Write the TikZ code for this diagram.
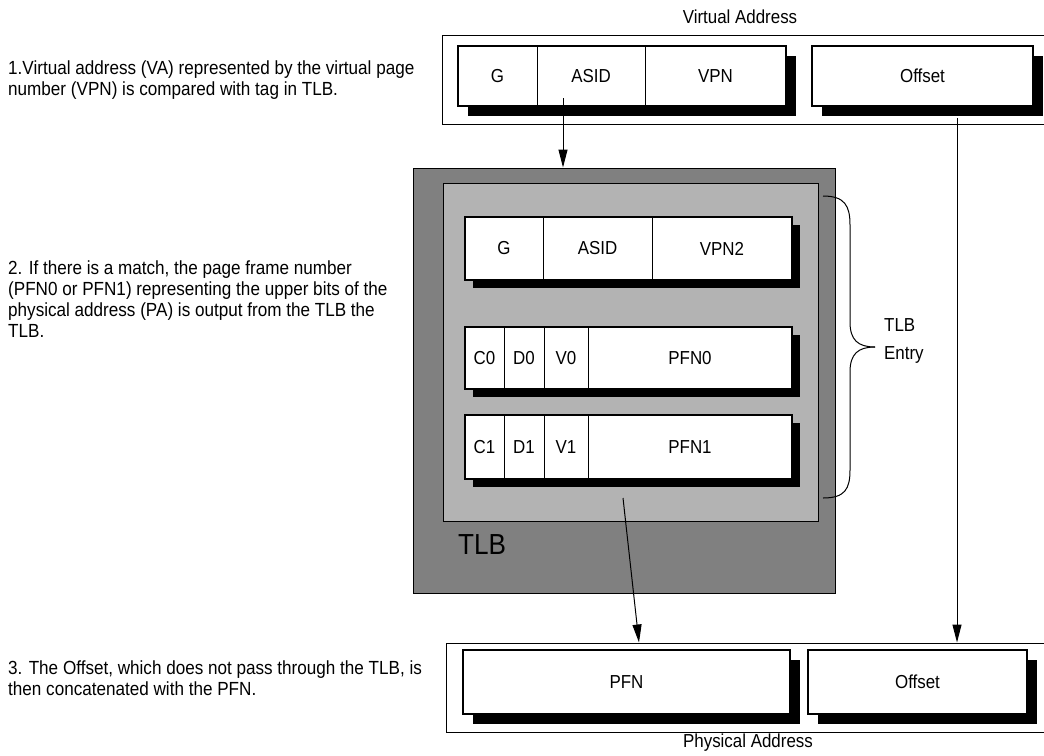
\documentclass[tikz,border=0pt]{standalone}
\usepackage{fontspec}
\setmainfont{Liberation Sans}[FakeStretch=0.9]
\usetikzlibrary{arrows.meta,shadows}
\definecolor{tlbdark}{HTML}{808080}
\definecolor{tlblight}{HTML}{B3B3B3}
\begin{document}
\begin{tikzpicture}[x=1pt,y=-1pt,
  lbl/.style={font=\fontsize{18.8}{22}\selectfont, inner sep=0pt},
  note/.style={font=\fontsize{19}{21}\selectfont, inner sep=0pt, anchor=north west, align=left},
  outerbox/.style={draw=black, line width=1pt, fill=white, inner sep=0pt},
  rowbox/.style={draw=black, line width=2pt, fill=white, inner sep=0pt,
     general shadow={fill=black, shadow xshift=#1, shadow yshift=-#1}},
  rowbox/.default=10pt,
  fieldc/.style={draw=black, line width=0.8pt, inner sep=0pt, font=\fontsize{18.8}{22}\selectfont},
  arr/.style={line width=1pt, -{Triangle[length=18pt,width=9pt]}}
]
\useasboundingbox (0,0) rectangle (1044,755);
\clip (0,0) rectangle (1044,755);

% ---------- notes ----------
\node[note] (t1) at (8,61) {1.Virtual address (VA) represented by the virtual page\\number (VPN) is compared with tag in TLB.};
\node[note] (t2) at (8,261) {2. If there is a match, the page frame number\\(PFN0 or PFN1) representing the upper bits of the\\physical address (PA) is output from the TLB the\\TLB.};
\node[note] (t3) at (8,661) {3. The Offset, which does not pass through the TLB, is\\then concatenated with the PFN.};

% ---------- virtual address ----------
\node[lbl] (valabel) at (740,17) {Virtual Address};
\node[outerbox, minimum width=618, minimum height=89] (va) at (751,79.5) {};
\node[rowbox, minimum width=328, minimum height=60] (vabox) at (622,76) {};
\node[fieldc, minimum width=79, minimum height=60] (vag) at (497.5,76) {G};
\node[fieldc, minimum width=108, minimum height=60] (vaasid) at (591,76) {ASID};
\node[fieldc, minimum width=141, minimum height=60] (vavpn) at (715.5,76) {VPN};
\node[rowbox, minimum width=221, minimum height=60] (vaoff) at (922.5,76) {};
\node[lbl] (vaofft) at (vaoff) {Offset};

% ---------- TLB ----------
\node[draw=black, line width=1pt, fill=tlbdark, minimum width=422, minimum height=425, inner sep=0pt] (tlb) at (624,380.5) {};
\node[draw=black, line width=1pt, fill=tlblight, minimum width=375, minimum height=338, inner sep=0pt] (tlbin) at (630.5,352) {};
\node[font=\fontsize{29}{32}\selectfont, inner sep=0pt] (tlblabel) at (482,545) {TLB};

% entry 1
\node[rowbox=8pt, minimum width=327, minimum height=63] (e1) at (628.5,248.5) {};
\node[fieldc, minimum width=78, minimum height=63] (e1g) at (504,248.5) {G};
\node[fieldc, minimum width=109, minimum height=63] (e1asid) at (597.5,248.5) {ASID};
\node[fieldc, minimum width=140, minimum height=63] (e1vpn) at (722,248.5) {VPN2};

% entry 2
\node[rowbox=8pt, minimum width=327, minimum height=62] (e2) at (628.5,358) {};
\node[fieldc, minimum width=39, minimum height=62] (e2c) at (484.5,358) {C0};
\node[fieldc, minimum width=40, minimum height=62] (e2d) at (524,358) {D0};
\node[fieldc, minimum width=44, minimum height=62] (e2v) at (566,358) {V0};
\node[fieldc, minimum width=204, minimum height=62] (e2p) at (690,358) {PFN0};

% entry 3
\node[rowbox=8pt, minimum width=327, minimum height=64] (e3) at (628.5,447) {};
\node[fieldc, minimum width=39, minimum height=64] (e3c) at (484.5,447) {C1};
\node[fieldc, minimum width=40, minimum height=64] (e3d) at (524,447) {D1};
\node[fieldc, minimum width=44, minimum height=64] (e3v) at (566,447) {V1};
\node[fieldc, minimum width=204, minimum height=64] (e3p) at (690,447) {PFN1};

% brace
\draw[line width=1pt] (823,196) .. controls (845,196) and (850,206) .. (850,225) -- (850,322)
   .. controls (850,340) and (858,347) .. (875,347);
\draw[line width=1pt] (875,347) .. controls (858,347) and (850,354) .. (850,372) -- (850,470)
   .. controls (850,489) and (845,498) .. (823,498);
\node[font=\fontsize{18.8}{28}\selectfont, inner sep=0pt, anchor=west, align=left] (tlbentry) at (884,341) {TLB\\Entry};

% ---------- physical address ----------
\node[outerbox, minimum width=614, minimum height=89] (pa) at (753,687.5) {};
\node[rowbox, minimum width=327, minimum height=64] (pfn) at (626.5,682) {};
\node[lbl] (pfnt) at (pfn) {PFN};
\node[rowbox, minimum width=219, minimum height=64] (paoff) at (917.5,682) {};
\node[lbl] (paofft) at (paoff) {Offset};
\node[lbl] (palabel) at (748,743) {Physical Address};

% ---------- arrows ----------
\coordinate (a1s) at (563,98);
\draw[arr] (a1s) -- (a1s |- tlb.north);
\coordinate (a2s) at (957,118);
\draw[arr] (a2s) -- (a2s |- pa.north);
\coordinate (a3s) at (623,498);
\coordinate (a3e) at (639,0);
\draw[arr] (a3s) -- (a3e |- pa.north);
\end{tikzpicture}
\end{document}
